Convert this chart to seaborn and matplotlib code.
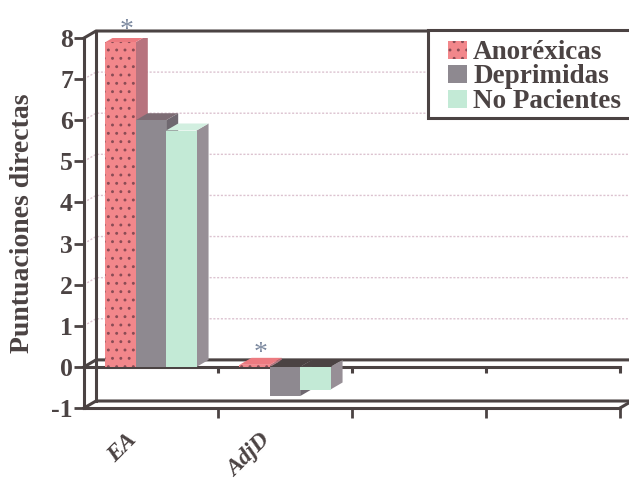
import matplotlib
matplotlib.use("Agg")
import matplotlib.pyplot as plt
import numpy as np
import pandas as pd
import seaborn as sns
from matplotlib.patches import Polygon, Rectangle
from matplotlib.lines import Line2D
from matplotlib.transforms import ScaledTranslation

# ---- data -------------------------------------------------------------
categorias = ["EA", "AdjD"]
grupos = ["Anoréxicas", "Deprimidas", "No Pacientes"]
anorexicas = [7.9, 0.05]
deprimidas = [6.0, -0.71]
no_pacientes = [5.75, -0.55]
asterisco_anorexicas = [True, True]
yticks = list(range(-1, 9))

# ---- style ------------------------------------------------------------
sns.set_theme(style="white")
plt.rcParams["font.family"] = ["Liberation Serif", "DejaVu Serif"]
plt.rcParams["hatch.linewidth"] = 0.9

OSCURO = "#4b4343"
PUNTOS = "#8a4c55"
frente = {"Anoréxicas": "#f2878b", "Deprimidas": "#8e8990", "No Pacientes": "#c3ead6"}
lateral = {"Anoréxicas": "#b7737e", "Deprimidas": "#6f6870", "No Pacientes": "#978f96"}
techo = {"Anoréxicas": "#ec7a80", "Deprimidas": "#7d6c74", "No Pacientes": "#d2efe0"}

W, H = 629, 482
fig = plt.figure(figsize=(W / 100, H / 100), dpi=100)
x_left, x_right, y_top, y_bot = 84, 620, 38, 408
ax = fig.add_axes([x_left / W, 1 - y_bot / H, (x_right - x_left) / W, (y_bot - y_top) / H])
ax.set_facecolor("none")

df = pd.DataFrame({
    "Índice": categorias * 3,
    "Grupo": [g for g in grupos for _ in categorias],
    "Puntuación": anorexicas + deprimidas + no_pacientes,
})

sns.barplot(data=df, x="Índice", y="Puntuación", hue="Grupo", order=categorias,
            hue_order=grupos, palette=frente, width=0.68, saturation=1,
            errorbar=None, legend=False, ax=ax, linewidth=0)

ax.set_xlim(-0.5, 3.5)
ax.set_ylim(-1, 8)

# depth of the 3-D effect, in pixels, converted to data units
px_x = (x_right - x_left) / 4.0
px_y = (y_bot - y_top) / 9.0
DX, DY = 12 / px_x, 7 / px_y

# ---- back wall, floor and zero plane -----------------------------------
def linea(xs, ys, z=1, cap="projecting"):
    ln = Line2D(xs, ys, color=OSCURO, lw=2.2, zorder=z, clip_on=False,
                solid_capstyle=cap)
    ax.add_line(ln)

x0, x1 = -0.5, 3.5
for k in range(1, 8):
    ax.add_line(Line2D([x0, x0 + DX, x1 + DX + 0.2], [k, k + DY, k + DY],
                       color="#dcc3d0", lw=1.0, ls=(0, (1.5, 1.2)), zorder=0.5,
                       clip_on=False))

linea([x0 + DX, x0 + DX], [-1 + DY, 8 + DY])          # back left edge
linea([x0, x0 + DX, x1 + DX + 0.2], [8, 8 + DY, 8 + DY])  # top edge
linea([x0, x0 + DX, x1 + DX + 0.2], [-1, -1 + DY, -1 + DY])  # back floor edge
linea([x1, x1 + DX], [-1, -1 + DY])
linea([x0, x0 + DX, x1 + DX + 0.2], [0, DY, DY])       # back zero edge
linea([x0, x1], [0, 0], z=2)                           # front zero edge
for b in [0.5, 1.5, 2.5, 3.5]:
    linea([b, b], [0, -6 / px_y], z=2, cap="butt")

# ---- 3-D faces of the bars --------------------------------------------
barras = sorted(ax.patches, key=lambda p: p.get_x())
color_grupo = {}
for g in grupos:
    color_grupo[matplotlib.colors.to_hex(frente[g])] = g

for i, p in enumerate(barras):
    g = color_grupo[matplotlib.colors.to_hex(p.get_facecolor())]
    bx0 = p.get_x()
    bx1 = bx0 + p.get_width()
    ya = p.get_y()
    yb = ya + p.get_height()
    ybot, ytop = min(ya, yb), max(ya, yb)
    z = 3 + i
    p.set_zorder(z)
    if g == "Anoréxicas":
        p.set_hatch("..")
        p.set_edgecolor(PUNTOS)
        p.set_linewidth(0)
    side = Polygon([(bx1, ybot), (bx1 + DX, ybot + DY), (bx1 + DX, ytop + DY), (bx1, ytop)],
                   closed=True, facecolor=lateral[g], edgecolor="none", zorder=z - 0.5)
    top_col = techo[g] if yb >= ya else OSCURO
    top = Polygon([(bx0, ytop), (bx1, ytop), (bx1 + DX, ytop + DY), (bx0 + DX, ytop + DY)],
                  closed=True, facecolor=top_col, edgecolor="none", zorder=z - 0.4)
    ax.add_patch(side)
    ax.add_patch(top)

# significance marks over the Anoréxicas bars
pink_bars = [p for p in barras
             if color_grupo[matplotlib.colors.to_hex(p.get_facecolor())] == "Anoréxicas"]
for p, marca in zip(pink_bars, asterisco_anorexicas):
    if marca:
        cx = p.get_x() + p.get_width() / 2 + DX / 2
        cy = max(0, p.get_height()) + DY
        ax.annotate("*", xy=(cx, cy), xytext=(0, -6), textcoords="offset points",
                    ha="center", va="bottom", fontsize=20, color="#7d8aa0",
                    annotation_clip=False, zorder=20)

# ---- axes -------------------------------------------------------------
for s in ["top", "right"]:
    ax.spines[s].set_visible(False)
for s in ["left", "bottom"]:
    ax.spines[s].set_linewidth(2.2)
    ax.spines[s].set_color(OSCURO)
    ax.spines[s].set_zorder(2)

ax.set_yticks(yticks)
ax.set_yticklabels([str(t) for t in yticks], fontsize=18.5, fontweight="bold", color=OSCURO)
ax.tick_params(axis="y", direction="out", length=7, width=2, color=OSCURO, pad=1, left=True)

ax.set_xticks([0, 1])
ax.set_xticklabels(categorias, rotation=45, ha="right", rotation_mode="anchor",
                   fontsize=17, fontweight="bold", fontstyle="italic", color=OSCURO)
ax.tick_params(axis="x", which="major", length=0, pad=17)
ax.set_xticks([0.5, 1.5, 2.5, 3.5], minor=True)
ax.tick_params(axis="x", which="minor", direction="out", length=7, width=2,
               color=OSCURO, bottom=True)
desplaza = ScaledTranslation(-0.25, 0.02, fig.dpi_scale_trans)
for lab in ax.get_xticklabels():
    lab.set_transform(lab.get_transform() + desplaza)

ax.set_xlabel("")
ax.set_ylabel("Puntuaciones directas", fontsize=20, fontweight="bold",
              color=OSCURO, labelpad=12)
ax.grid(False)

# ---- legend box ----------------------------------------------------------
def fx(x):
    return x / W

def fy(y):
    return 1 - y / H

caja = Rectangle((fx(428), fy(118)), fx(640) - fx(428), fy(30) - fy(118),
                 transform=fig.transFigure, facecolor="white", edgecolor=OSCURO,
                 lw=2.2, zorder=10, clip_on=False)
fig.add_artist(caja)
bases = [59, 83, 108]
for g, yb in zip(grupos, bases):
    sw = Rectangle((fx(448), fy(yb)), fx(467) - fx(448), fy(yb - 18) - fy(yb),
                   transform=fig.transFigure, facecolor=frente[g], edgecolor="none",
                   lw=0, zorder=11)
    if g == "Anoréxicas":
        sw.set_hatch("..")
        sw.set_edgecolor(PUNTOS)
    fig.add_artist(sw)
    fig.text(fx(473), fy(yb), g, fontsize=19.5, fontweight="bold", color=OSCURO,
             va="baseline", ha="left", zorder=12)

fig.savefig("out.png", dpi=100, facecolor="white")
